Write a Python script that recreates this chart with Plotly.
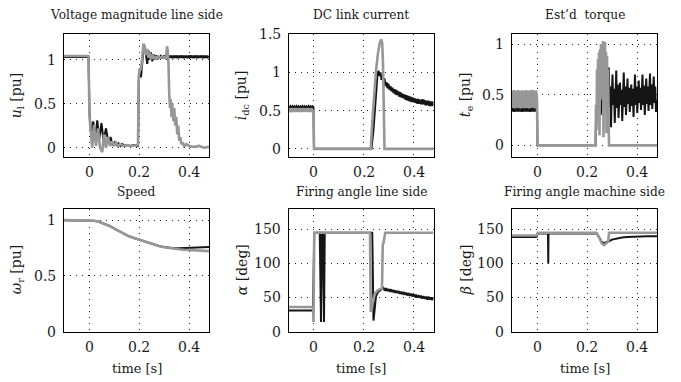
import plotly.graph_objects as go
from plotly.subplots import make_subplots

FONT = "DejaVu Serif"
BLACK = "#151515"
GRAY = "#979797"
TEXT = "#1a1a1a"

# ---------------- Voltage magnitude line side (u_l) ----------------
t_ul_black = [-0.1, -0.002, 0.002, 0.006, 0.010, 0.017, 0.025, 0.033, 0.041, 0.050,
              0.058, 0.068, 0.078, 0.086, 0.094, 0.102,
              0.110, 0.118, 0.126, 0.134, 0.142, 0.150, 0.165, 0.180, 0.196, 0.199,
              0.203, 0.208, 0.213, 0.218, 0.223, 0.228, 0.233, 0.238, 0.243, 0.248,
              0.253, 0.258, 0.263, 0.268, 0.273, 0.278, 0.283, 0.288, 0.293, 0.298,
              0.302, 0.306, 0.310, 0.314, 0.318, 0.322, 0.326, 0.330, 0.334, 0.338,
              0.342, 0.346, 0.350, 0.354, 0.358, 0.362, 0.366, 0.370, 0.374, 0.378,
              0.382, 0.386, 0.390, 0.394, 0.398, 0.402, 0.406, 0.410, 0.414, 0.418,
              0.422, 0.426, 0.430, 0.434, 0.438, 0.442, 0.446, 0.450, 0.454, 0.458,
              0.462, 0.466, 0.470, 0.474, 0.478]
u_ul_black = [1.03, 1.03, 0.40, 0.28, 0.12, 0.30, 0.10, 0.31, 0.10, 0.28,
              0.08, 0.22, 0.05, 0.12, 0.03, 0.06,
              0.03, 0.05, 0.02, 0.04, 0.02, 0.03, 0.02, 0.03, 0.02, 0.75,
              0.85, 0.80, 1.00, 1.12, 1.15, 1.02, 0.95, 1.10, 1.00, 1.08,
              0.98, 1.06, 1.00, 1.05, 1.00, 1.04, 1.01, 1.04, 1.02, 1.03,
              1.045, 1.018, 1.044, 1.017, 1.046, 1.019, 1.045, 1.018, 1.044, 1.016,
              1.045, 1.018, 1.046, 1.017, 1.044, 1.018, 1.045, 1.019, 1.046, 1.017,
              1.045, 1.018, 1.044, 1.017, 1.045, 1.018, 1.046, 1.019, 1.044, 1.017,
              1.045, 1.018, 1.046, 1.017, 1.044, 1.018, 1.045, 1.019, 1.046, 1.017,
              1.045, 1.018, 1.044, 1.017, 1.045]
t_ul_gray = [-0.1, -0.002, 0.002, 0.008, 0.013, 0.020, 0.028, 0.036, 0.044, 0.053,
             0.060, 0.068, 0.076, 0.084, 0.092, 0.100, 0.108, 0.116, 0.125, 0.135,
             0.150, 0.170, 0.185, 0.196, 0.199, 0.203, 0.208,
             0.213, 0.218, 0.223, 0.228, 0.233, 0.238, 0.243, 0.248, 0.253, 0.258,
             0.263, 0.268, 0.275, 0.285, 0.295, 0.305, 0.309, 0.312, 0.315, 0.318,
             0.321, 0.324, 0.327, 0.330, 0.333, 0.337, 0.341, 0.345, 0.349, 0.353,
             0.357, 0.361, 0.365, 0.369, 0.375, 0.380, 0.390, 0.400, 0.420, 0.440,
             0.460, 0.480]
u_ul_gray = [1.04, 1.04, 0.35, 0.20, 0.00, 0.26, 0.02, 0.22, 0.00, -0.05,
             0.15, 0.00, 0.12, 0.02, 0.07, 0.03, 0.06, 0.02, 0.04, 0.02,
             0.03, 0.02, 0.03, 0.03, 0.80, 0.90, 0.88,
             1.05, 1.18, 1.15, 1.05, 1.12, 1.02, 1.08, 1.00, 1.06, 1.01,
             1.04, 1.00, 1.03, 1.02, 1.03, 1.02, 1.04, 1.15, 1.10, 0.95,
             0.60, 0.45, 0.55, 0.35, 0.50, 0.30, 0.45, 0.25, 0.35, 0.15,
             0.25, 0.08, 0.12, 0.04, 0.06, 0.02, 0.04, 0.02, 0.01, 0.02,
             0.00, 0.01]

# ---------------- DC link current (i_dc) ----------------
t_idc_black = [-0.100, -0.096, -0.092, -0.088, -0.084, -0.080, -0.076, -0.072, -0.068, -0.064,
               -0.060, -0.056, -0.052, -0.048, -0.044, -0.040, -0.036, -0.032, -0.028, -0.024,
               -0.020, -0.016, -0.012, -0.008, -0.004, 0.000, 0.002, 0.232, 0.240, 0.248,
               0.256,
               0.260, 0.264, 0.268, 0.272, 0.276, 0.280, 0.284, 0.288, 0.292, 0.296,
               0.300, 0.304, 0.308, 0.312, 0.316, 0.320, 0.324, 0.328, 0.332, 0.336,
               0.340, 0.344, 0.348, 0.352, 0.356, 0.360, 0.364, 0.368, 0.372, 0.376,
               0.380, 0.384, 0.388, 0.392, 0.396, 0.400, 0.404, 0.408, 0.412, 0.416,
               0.420, 0.424, 0.428, 0.432, 0.436, 0.440, 0.444, 0.448, 0.452, 0.456,
               0.460, 0.464, 0.468, 0.472, 0.476, 0.480]
i_idc_black = [0.555, 0.535, 0.556, 0.534, 0.555, 0.536, 0.554, 0.535, 0.556, 0.534,
               0.555, 0.536, 0.554, 0.535, 0.556, 0.534, 0.555, 0.536, 0.554, 0.535,
               0.556, 0.534, 0.555, 0.536, 0.554, 0.540, 0.0, 0.0, 0.25, 0.62,
               0.98,
               1.02, 0.95, 1.00, 0.90, 0.96, 0.86, 0.92, 0.82, 0.87, 0.79,
               0.85, 0.77, 0.82, 0.75, 0.80, 0.73, 0.78, 0.71, 0.77, 0.70,
               0.75, 0.68, 0.74, 0.67, 0.72, 0.66, 0.71, 0.64, 0.70, 0.63,
               0.69, 0.62, 0.68, 0.61, 0.67, 0.61, 0.66, 0.60, 0.65, 0.59,
               0.65, 0.59, 0.64, 0.58, 0.65, 0.58, 0.64, 0.57, 0.63, 0.57,
               0.63, 0.56, 0.62, 0.56, 0.62, 0.56]
t_idc_gray = [-0.100, -0.096, -0.092, -0.088, -0.084, -0.080, -0.076, -0.072, -0.068, -0.064,
              -0.060, -0.056, -0.052, -0.048, -0.044, -0.040, -0.036, -0.032, -0.028, -0.024,
              -0.020, -0.016, -0.012, -0.008, -0.004, 0.000, 0.002, 0.229, 0.235, 0.242,
              0.250, 0.258, 0.265, 0.271, 0.275, 0.278, 0.281, 0.284, 0.480]
i_idc_gray = [0.485, 0.530, 0.480, 0.532, 0.484, 0.530, 0.482, 0.531, 0.485, 0.530,
              0.481, 0.532, 0.484, 0.530, 0.482, 0.531, 0.485, 0.530, 0.481, 0.532,
              0.484, 0.530, 0.482, 0.531, 0.485, 0.510, 0.0, 0.0, 0.35, 0.70,
              1.02, 1.25, 1.38, 1.43, 1.38, 1.10, 0.50, 0.0, 0.0]

# ---------------- Est'd torque (t_e) ----------------
t_te_black = [-0.100, -0.096, -0.092, -0.088, -0.084, -0.080, -0.076, -0.072, -0.068, -0.064,
              -0.060, -0.056, -0.052, -0.048, -0.044, -0.040, -0.036, -0.032, -0.028, -0.024,
              -0.020, -0.016, -0.012, -0.008, -0.004, 0.000, 0.002, 0.234, 0.236, 0.245,
              0.255, 0.265, 0.275, 0.284,
              0.287, 0.290, 0.293, 0.296, 0.299, 0.302, 0.305, 0.308, 0.311, 0.314,
              0.317, 0.320, 0.323, 0.326, 0.329, 0.332, 0.335, 0.338, 0.341, 0.344,
              0.347, 0.350, 0.353, 0.356, 0.359, 0.362, 0.365, 0.368, 0.371, 0.374,
              0.377, 0.380, 0.383, 0.386, 0.389, 0.392, 0.395, 0.398, 0.401, 0.404,
              0.407, 0.410, 0.413, 0.416, 0.419, 0.422, 0.425, 0.428, 0.431, 0.434,
              0.437, 0.440, 0.443, 0.446, 0.449, 0.452, 0.455, 0.458, 0.461, 0.464,
              0.467, 0.470, 0.473, 0.476, 0.479]
te_black = [0.335, 0.390, 0.332, 0.388, 0.334, 0.392, 0.333, 0.389, 0.335, 0.391,
            0.332, 0.388, 0.334, 0.392, 0.333, 0.389, 0.335, 0.391, 0.332, 0.388,
            0.334, 0.392, 0.333, 0.389, 0.335, 0.360, 0.0, 0.0, 0.20, 0.50,
            0.30, 0.60, 0.40, 0.55,
            0.77, 0.38, 0.58, 0.18, 0.50, 0.70, 0.40, 0.56, 0.22, 0.52,
            0.74, 0.37, 0.60, 0.27, 0.48, 0.62, 0.40, 0.55, 0.24, 0.50,
            0.72, 0.38, 0.58, 0.30, 0.52, 0.66, 0.41, 0.57, 0.33, 0.50,
            0.60, 0.39, 0.56, 0.28, 0.51, 0.70, 0.40, 0.58, 0.32, 0.49,
            0.64, 0.42, 0.57, 0.35, 0.52, 0.70, 0.40, 0.59, 0.30, 0.50,
            0.66, 0.41, 0.58, 0.34, 0.52, 0.71, 0.40, 0.60, 0.36, 0.51,
            0.68, 0.42, 0.58, 0.33, 0.45]
t_te_gray = [-0.100, -0.096, -0.092, -0.088, -0.084, -0.080, -0.076, -0.072, -0.068, -0.064,
             -0.060, -0.056, -0.052, -0.048, -0.044, -0.040, -0.036, -0.032, -0.028, -0.024,
             -0.020, -0.016, -0.012, -0.008, -0.004, 0.000, 0.002,
             0.234, 0.236, 0.238, 0.240, 0.242, 0.244, 0.246, 0.248, 0.250, 0.252,
             0.254, 0.256, 0.258, 0.260, 0.262, 0.264, 0.266, 0.268, 0.270, 0.272,
             0.274, 0.276, 0.278, 0.280, 0.282, 0.284, 0.286, 0.288, 0.480]
te_gray = [0.540, 0.370, 0.545, 0.365, 0.538, 0.372, 0.547, 0.368, 0.540, 0.366,
           0.544, 0.370, 0.539, 0.367, 0.546, 0.371, 0.540, 0.365, 0.543, 0.369,
           0.548, 0.372, 0.541, 0.366, 0.544, 0.450, 0.0,
           0.0, 0.40, 0.15, 0.75, 0.45, 0.85, 0.50, 0.92, 0.10, 0.95,
           0.50, 1.00, 0.55, 0.95, 0.45, 1.03, 0.08, 1.00, 0.50, 1.02,
           0.45, 0.92, 0.12, 0.88, 0.50, 0.75, 0.40, 0.0, 0.0]

# ---------------- Speed (omega_r) ----------------
t_wr = [-0.1, 0.0, 0.02, 0.04, 0.06, 0.08, 0.10, 0.12, 0.14, 0.16, 0.18, 0.20, 0.22,
        0.24, 0.26, 0.28, 0.30, 0.32, 0.34, 0.36, 0.38, 0.40, 0.42, 0.44, 0.46, 0.48]
wr_black = [1.0, 1.0, 0.995, 0.985, 0.970, 0.950, 0.925, 0.900, 0.875, 0.855, 0.840,
            0.825, 0.808, 0.793, 0.780, 0.768, 0.759, 0.752, 0.748, 0.747, 0.748, 0.750,
            0.752, 0.754, 0.756, 0.758]
wr_gray = [1.0, 1.0, 0.995, 0.985, 0.970, 0.950, 0.925, 0.900, 0.875, 0.855, 0.840,
           0.825, 0.808, 0.793, 0.780, 0.768, 0.757, 0.749, 0.743, 0.738, 0.734, 0.731,
           0.728, 0.726, 0.724, 0.722]

# ---------------- Firing angle line side (alpha) ----------------
t_al_black = [-0.1, -0.002, 0.003, 0.025, 0.030, 0.033, 0.037, 0.042, 0.045, 0.235,
              0.240, 0.245, 0.250, 0.258, 0.268, 0.275,
              0.280, 0.285, 0.290, 0.295, 0.300, 0.305, 0.310, 0.315, 0.320, 0.325,
              0.330, 0.335, 0.340, 0.345, 0.350, 0.355, 0.360, 0.365, 0.370, 0.375,
              0.380, 0.385, 0.390, 0.395, 0.400, 0.405, 0.410, 0.415, 0.420, 0.425,
              0.430, 0.435, 0.440, 0.445, 0.450, 0.455, 0.460, 0.465, 0.470, 0.475,
              0.480]
al_black = [31, 31, 145, 145, 14, 145, 145, 14, 145, 145,
            16, 40, 52, 58, 61, 62,
            64, 60, 63.5, 59.5, 62.5, 58.5, 62, 58, 61, 57,
            60, 56.5, 59.5, 55.5, 58.5, 54.5, 58, 54, 57, 53,
            56.5, 52.5, 55.5, 51.5, 55, 51, 54, 50, 53.5, 49.5,
            52.5, 48.5, 52, 48, 51, 47, 51, 47, 50, 46,
            50]
t_al_gray = [-0.1, -0.002, 0.0, 0.003, 0.226, 0.229, 0.233, 0.238, 0.245, 0.255,
             0.265, 0.274, 0.277, 0.280, 0.287, 0.480]
al_gray = [36, 36, 14, 145, 145, 29, 32, 45, 55, 60,
           62, 63, 128, 130, 145, 145]

# ---------------- Firing angle machine side (beta) ----------------
t_be_black = [-0.1, -0.002, 0.003, 0.044, 0.045, 0.046, 0.240, 0.250, 0.260, 0.270,
              0.280, 0.290, 0.300, 0.320, 0.340, 0.360, 0.400, 0.440, 0.480]
be_black = [139, 139, 144, 144, 100, 144, 144, 138, 131, 130,
            131, 133, 135, 137, 138, 139, 140, 140, 140]
t_be_gray = [-0.1, -0.002, 0.003, 0.237, 0.250, 0.260, 0.268, 0.276, 0.285, 0.288, 0.480]
be_gray = [141, 141, 145, 145, 137, 129, 127, 129, 132, 145, 145]

# ---------------- axis / text definitions ----------------
titles = ["Voltage magnitude line side", "DC link current", "Est\u2019d  torque",
          "Speed", "Firing angle line side", "Firing angle machine side"]
ylabels = ["<i>u</i><sub>l</sub> [pu]", "<i>i</i><sub>dc</sub> [pu]", "<i>t</i><sub>e</sub> [pu]",
           "<i>\u03c9</i><sub>r</sub> [pu]", "<i>\u03b1</i> [deg]", "<i>\u03b2</i> [deg]"]
x_ticks = [0, 0.2, 0.4]
x_ticktext = ["0", "0.2", "0.4"]
y_ticks = [[0, 0.5, 1], [0, 0.5, 1, 1.5], [0, 0.5, 1], [0, 0.5, 1], [0, 50, 100, 150], [0, 50, 100, 150]]
y_ticktext = [["0", "0.5", "1"], ["0", "0.5", "1", "1.5"], ["0", "0.5", "1"], ["0", "0.5", "1"],
              ["0", "50", "100", "150"], ["0", "50", "100", "150"]]
y_ranges = [[-0.1, 1.29], [-0.1, 1.5], [-0.11, 1.1], [0, 1.1], [0, 180], [0, 180]]
x_range = [-0.1, 0.48]

series = [
    (t_ul_black, u_ul_black, t_ul_gray, u_ul_gray),
    (t_idc_black, i_idc_black, t_idc_gray, i_idc_gray),
    (t_te_black, te_black, t_te_gray, te_gray),
    (t_wr, wr_black, t_wr, wr_gray),
    (t_al_black, al_black, t_al_gray, al_gray),
    (t_be_black, be_black, t_be_gray, be_gray),
]

# The page body keeps the browser's default 8px margin, so the figure is sized
# to fit the 681x382 window and screen positions are taken relative to it.
OFF = 8
W, H = 681 - OFF, 382 - OFF
col_px = [(64, 209), (288.5, 433.5), (512, 657)]
row_px = [(34, 156.5), (209, 331.5)]
ylab_px = [17, 242, 466]
title_py = [15, 192]
xtick_py = [172, 347]


def px(x):
    return (x - OFF) / W


def py(y):
    return 1 - (y - OFF) / H


fig = make_subplots(rows=2, cols=3)

for i, (tk, yk, tg, yg) in enumerate(series):
    r, c = i // 3 + 1, i % 3 + 1
    assert len(tk) == len(yk) and len(tg) == len(yg)
    fig.add_trace(go.Scatter(x=tk, y=yk, mode="lines", line=dict(color=BLACK, width=2),
                             showlegend=False, hoverinfo="skip"), row=r, col=c)
    fig.add_trace(go.Scatter(x=tg, y=yg, mode="lines", line=dict(color=GRAY, width=2.6),
                             showlegend=False, hoverinfo="skip"), row=r, col=c)

lab_font = dict(family=FONT, size=14, color=TEXT)
for i in range(6):
    r, c = i // 3, i % 3
    x0, x1 = col_px[c]
    y0, y1 = row_px[r]
    suffix = "" if i == 0 else str(i + 1)
    ax = dict(showline=True, linecolor="black", linewidth=1, mirror=True,
              showgrid=True, gridcolor="#222", gridwidth=1, griddash="1px,5px",
              zeroline=False, ticks="", showticklabels=False)
    fig.layout["xaxis" + suffix].update(domain=[px(x0), px(x1)], range=x_range,
                                        tickvals=x_ticks, **ax)
    fig.layout["yaxis" + suffix].update(domain=[py(y1), py(y0)], range=y_ranges[i],
                                        tickvals=y_ticks[i], **ax)
    for v, s in zip(x_ticks, x_ticktext):
        fig.add_annotation(x=v, xref="x" + suffix, y=py(xtick_py[r]), yref="paper",
                           text=s, showarrow=False, xanchor="center", yanchor="middle",
                           borderpad=0, font=lab_font)
    for v, s in zip(y_ticks[i], y_ticktext[i]):
        fig.add_annotation(x=px(x0 - 7), xref="paper", y=v, yref="y" + suffix,
                           text=s, showarrow=False, xanchor="right", yanchor="middle",
                           borderpad=0, font=lab_font)
    fig.add_annotation(x=px((x0 + x1) / 2), y=py(title_py[r]), xref="paper", yref="paper",
                       text=titles[i], showarrow=False, xanchor="center", yanchor="middle",
                       font=dict(family=FONT, size=12.2, color=TEXT))
    fig.add_annotation(x=px(ylab_px[c]), y=py((y0 + y1) / 2), xref="paper", yref="paper",
                       text=ylabels[i], showarrow=False, textangle=-90, xanchor="center",
                       yanchor="middle", font=lab_font)
    if r == 1:
        fig.add_annotation(x=px((x0 + x1) / 2), y=py(368), xref="paper", yref="paper",
                           text="time [s]", showarrow=False, xanchor="center", yanchor="middle",
                           font=dict(family=FONT, size=13, color=TEXT))

fig.update_layout(width=W, height=H, margin=dict(l=0, r=0, t=0, b=0),
                  paper_bgcolor="white", plot_bgcolor="white",
                  font=dict(family=FONT, size=14, color=TEXT))

fig.write_html("out.html")
